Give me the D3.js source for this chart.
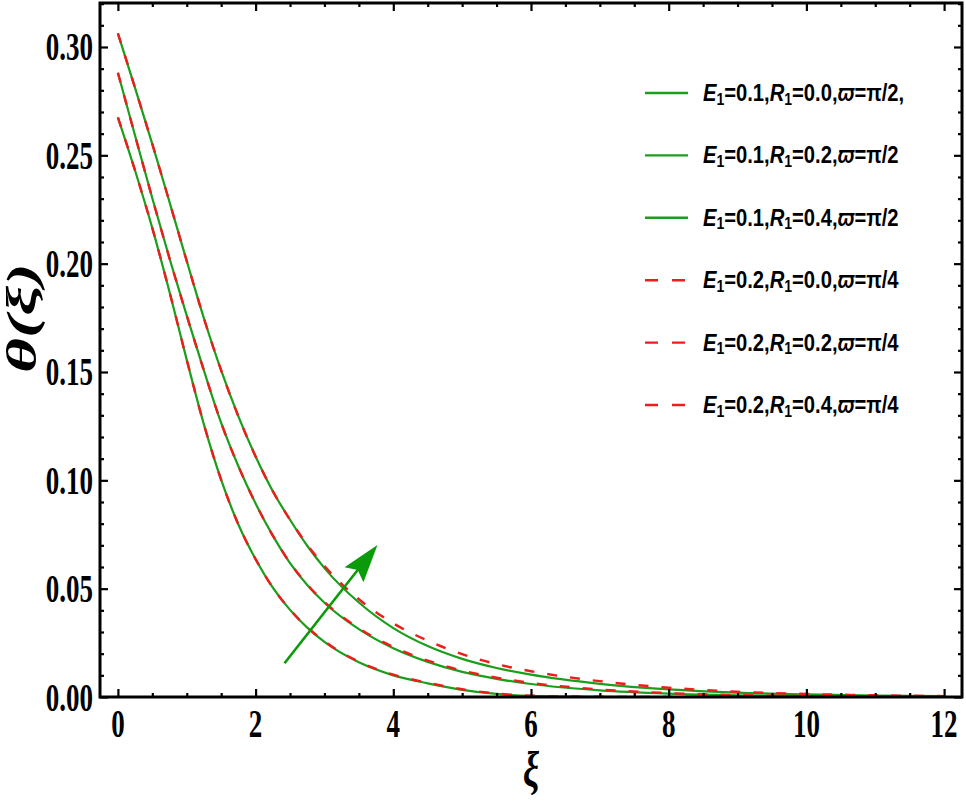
<!DOCTYPE html>
<html>
<head>
<meta charset="utf-8">
<script src="https://cdn.jsdelivr.net/npm/d3@7"></script>
<style>
  html, body { margin: 0; padding: 0; background: #ffffff; }
  svg { display: block; }
</style>
</head>
<body>
<script>
// ---------------- DATA ----------------
const xi = [0, 0.25, 0.5, 0.75, 1, 1.25, 1.5, 1.75, 2, 2.25, 2.5, 2.75, 3, 3.5, 4, 4.5, 5, 5.5, 6, 7, 8, 9, 10, 11, 12];

// E1=0.1, varpi=pi/2 (solid green)
const greenR00 = [0.2675, 0.2429, 0.2164, 0.1869, 0.1556, 0.1257, 0.1002, 0.0796, 0.0636, 0.0505, 0.0402, 0.0320, 0.0254, 0.0160, 0.0100, 0.0063, 0.0033, 0.0014, 0.0005, 0.0001, 0, 0, 0, 0, 0];
const greenR02 = [0.2881, 0.2590, 0.2302, 0.2024, 0.1760, 0.1506, 0.1265, 0.1065, 0.0893, 0.0745, 0.0618, 0.0517, 0.0435, 0.0313, 0.0225, 0.0162, 0.0116, 0.0084, 0.0060, 0.0031, 0.0016, 0.0008, 0.0004, 0.0002, 0.0001];
const greenR04 = [0.3063, 0.2810, 0.2552, 0.2284, 0.2012, 0.1747, 0.1507, 0.1295, 0.1110, 0.0950, 0.0818, 0.0698, 0.0595, 0.0436, 0.0318, 0.0235, 0.0176, 0.0134, 0.0103, 0.0061, 0.0035, 0.0020, 0.0012, 0.0007, 0.0004];

// E1=0.2, varpi=pi/4 (dashed red)
const redR00 = [0.2675, 0.2429, 0.2164, 0.1869, 0.1556, 0.1257, 0.1002, 0.0796, 0.0636, 0.0505, 0.0403, 0.0322, 0.0257, 0.0163, 0.0103, 0.0066, 0.0036, 0.0016, 0.0006, 0.0001, 0, 0, 0, 0, 0];
const redR02 = [0.2881, 0.2590, 0.2302, 0.2024, 0.1760, 0.1506, 0.1265, 0.1065, 0.0893, 0.0745, 0.0619, 0.0519, 0.0438, 0.0317, 0.0231, 0.0168, 0.0122, 0.0089, 0.0065, 0.0035, 0.0018, 0.0009, 0.0004, 0.0002, 0.0001];
const redR04 = [0.3063, 0.2810, 0.2552, 0.2284, 0.2012, 0.1747, 0.1507, 0.1295, 0.1110, 0.0950, 0.0818, 0.0703, 0.0605, 0.0451, 0.0340, 0.0260, 0.0198, 0.0152, 0.0119, 0.0073, 0.0043, 0.0024, 0.0014, 0.0008, 0.0004];

const legendE = ["0.1", "0.1", "0.1", "0.2", "0.2", "0.2"];
const legendR = ["0.0", "0.2", "0.4", "0.0", "0.2", "0.4"];
const legendW = ["π/2,", "π/2", "π/2", "π/4", "π/4", "π/4"];

const xTickValues = [0, 2, 4, 6, 8, 10, 12];
const xTickLabels = ["0", "2", "4", "6", "8", "10", "12"];
const yTickValues = [0, 0.05, 0.10, 0.15, 0.20, 0.25, 0.30];
const yTickLabels = ["0.00", "0.05", "0.10", "0.15", "0.20", "0.25", "0.30"];

// arrow annotation (data coordinates): from -> to
const arrowFrom = [2.42, 0.0156];
const arrowTo = [3.77, 0.0702];

// ---------------- LAYOUT ----------------
const W = 966, H = 802;
const L = 100, R = 962, T = 3, B = 697;
const GREEN = "#1b9e1b", RED = "#f01c1c";
const STRETCH = 1.45;

const svg = d3.select("body").append("svg").attr("width", W).attr("height", H);
svg.append("rect").attr("width", W).attr("height", H).attr("fill", "#fff");

const x = d3.scaleLinear().domain([-0.26, 12.26]).range([L, R]);
const y = d3.scaleLinear().domain([0, 0.3203]).range([B, T]);

svg.append("defs").append("clipPath").attr("id", "plotclip")
  .append("rect").attr("x", L).attr("y", T).attr("width", R - L).attr("height", B - T + 1);

// curves
const line = d3.line().x((d, i) => x(xi[i])).y(d => y(d)).curve(d3.curveMonotoneX);
const gCurves = svg.append("g").attr("clip-path", "url(#plotclip)");
[greenR00, greenR02, greenR04].forEach(s => {
  gCurves.append("path").attr("d", line(s)).attr("fill", "none")
    .attr("stroke", GREEN).attr("stroke-width", 2.2);
});
[redR00, redR02, redR04].forEach(s => {
  gCurves.append("path").attr("d", line(s)).attr("fill", "none")
    .attr("stroke", RED).attr("stroke-width", 2.4).attr("stroke-dasharray", "10,13");
});

// arrow
(function () {
  const x0 = x(arrowFrom[0]), y0 = y(arrowFrom[1]);
  const x1 = x(arrowTo[0]), y1 = y(arrowTo[1]);
  const dx = x1 - x0, dy = y1 - y0, len = Math.hypot(dx, dy);
  const ux = dx / len, uy = dy / len, px = -uy, py = ux;
  const headLen = 38, headHalf = 12, notch = 6;
  const bx = x1 - ux * headLen, by = y1 - uy * headLen;
  svg.append("line").attr("x1", x0).attr("y1", y0)
    .attr("x2", bx + ux * notch).attr("y2", by + uy * notch)
    .attr("stroke", "#0a9a0a").attr("stroke-width", 2.6);
  const pts = [
    [x1, y1],
    [bx + px * headHalf, by + py * headHalf],
    [bx + ux * notch, by + uy * notch],
    [bx - px * headHalf, by - py * headHalf]
  ];
  svg.append("polygon").attr("points", pts.map(p => p.join(",")).join(" "))
    .attr("fill", "#0a9a0a");
})();

// ticks
function styleAxis(g) {
  g.select(".domain").remove();
  g.selectAll(".tick line").attr("stroke", "#000").attr("stroke-width", 2.2);
  g.selectAll(".tick text").remove();
}
const xMinor = d3.range(0, 12.01, 0.5).filter(v => Math.abs(v / 2 - Math.round(v / 2)) > 1e-6);
const yMinor = d3.range(0, 0.3201, 0.01).filter(v => Math.abs(v / 0.05 - Math.round(v / 0.05)) > 1e-6);

svg.append("g").attr("transform", `translate(0,${B})`)
  .call(d3.axisBottom(x).tickValues(xTickValues).tickSize(-8).tickFormat("")).call(styleAxis);
svg.append("g").attr("transform", `translate(0,${B})`)
  .call(d3.axisBottom(x).tickValues(xMinor).tickSize(-4).tickFormat("")).call(styleAxis);
svg.append("g").attr("transform", `translate(0,${T})`)
  .call(d3.axisTop(x).tickValues(xTickValues).tickSize(-8).tickFormat("")).call(styleAxis);
svg.append("g").attr("transform", `translate(0,${T})`)
  .call(d3.axisTop(x).tickValues(xMinor).tickSize(-4).tickFormat("")).call(styleAxis);
svg.append("g").attr("transform", `translate(${L},0)`)
  .call(d3.axisLeft(y).tickValues(yTickValues).tickSize(-8).tickFormat("")).call(styleAxis);
svg.append("g").attr("transform", `translate(${L},0)`)
  .call(d3.axisLeft(y).tickValues(yMinor).tickSize(-4).tickFormat("")).call(styleAxis);
svg.append("g").attr("transform", `translate(${R},0)`)
  .call(d3.axisRight(y).tickValues(yTickValues).tickSize(-8).tickFormat("")).call(styleAxis);
svg.append("g").attr("transform", `translate(${R},0)`)
  .call(d3.axisRight(y).tickValues(yMinor).tickSize(-4).tickFormat("")).call(styleAxis);

// frame
svg.append("rect").attr("x", L).attr("y", T).attr("width", R - L).attr("height", B - T)
  .attr("fill", "none").attr("stroke", "#000").attr("stroke-width", 3);

// tick labels
const serif = "'Liberation Serif', 'Times New Roman', Times, serif";
xTickValues.forEach((v, i) => {
  svg.append("text").attr("transform", `translate(${x(v)},737) scale(1,${STRETCH})`)
    .attr("text-anchor", "middle").attr("font-family", serif).attr("font-weight", "bold")
    .attr("font-size", 27).text(xTickLabels[i]);
});
yTickValues.forEach((v, i) => {
  svg.append("text").attr("transform", `translate(93,${y(v) + 13.5}) scale(1,${STRETCH})`)
    .attr("text-anchor", "end").attr("font-family", serif).attr("font-weight", "bold")
    .attr("font-size", 27).text(yTickLabels[i]);
});

// axis titles
svg.append("text").attr("transform", `translate(531,787) scale(1,1.4)`)
  .attr("text-anchor", "middle").attr("font-family", serif).attr("font-weight", "bold")
  .attr("font-style", "italic").attr("font-size", 36).text("ξ");
svg.append("text").attr("transform", `translate(36,318) rotate(-90) scale(1.6,1)`)
  .attr("text-anchor", "middle").attr("font-family", serif).attr("font-weight", "bold")
  .attr("font-style", "italic").attr("font-size", 42).text("θ(ξ)");

// legend
const sans = "'Liberation Sans', Arial, Helvetica, sans-serif";
const rowY = d3.scaleLinear().domain([0, 5]).range([93, 405]);
legendE.forEach((e, i) => {
  const cy = rowY(i);
  const isRed = i >= 3;
  svg.append("line").attr("x1", 645).attr("x2", 688).attr("y1", cy).attr("y2", cy)
    .attr("stroke", isRed ? RED : GREEN).attr("stroke-width", 2.4)
    .attr("stroke-dasharray", isRed ? "13,14" : null);
  const t = svg.append("text").attr("transform", `translate(703,${cy + 8}) scale(1,1.17)`)
    .attr("font-family", sans).attr("font-weight", "bold").attr("font-size", 20.2);
  t.append("tspan").attr("font-style", "italic").text("E");
  t.append("tspan").attr("font-size", 14).attr("dy", 3).text("1");
  t.append("tspan").attr("dy", -3).text("=" + e + ",");
  t.append("tspan").attr("font-style", "italic").text("R");
  t.append("tspan").attr("font-size", 14).attr("dy", 3).text("1");
  t.append("tspan").attr("dy", -3).text("=" + legendR[i] + ",");
  t.append("tspan").attr("font-style", "italic").text("ϖ");
  t.append("tspan").text("=" + legendW[i]);
});
</script>
</body>
</html>
